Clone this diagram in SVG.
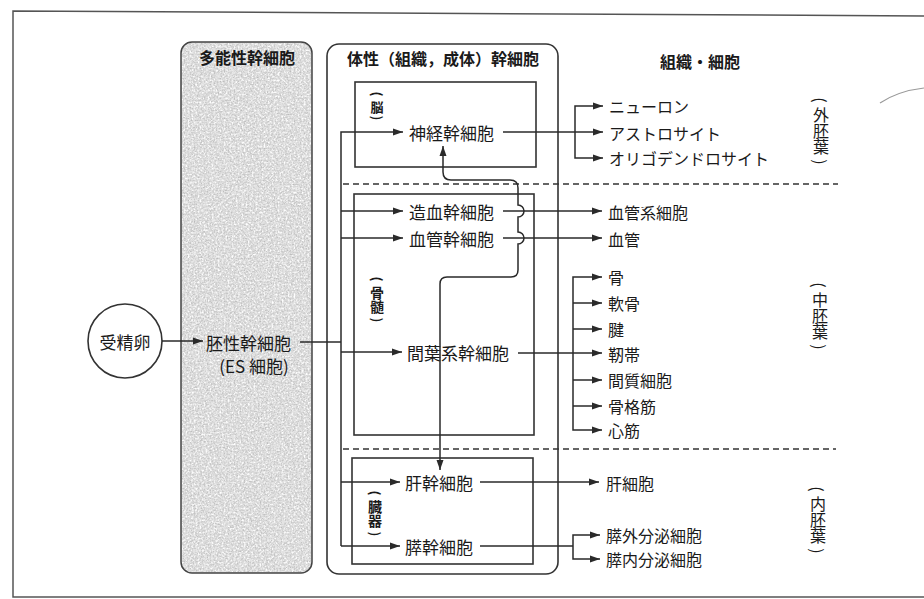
<svg xmlns="http://www.w3.org/2000/svg" width="924" height="599" viewBox="0 0 924 599">
<style>
  .t { font-family: "Noto Sans CJK JP", "Noto Sans", sans-serif; fill: #1a1a1a; }
  .node { font-size: 17px; dominant-baseline: central; }
  .out { font-size: 16px; dominant-baseline: central; }
  .hdr { font-size: 16px; font-weight: bold; text-anchor: middle; dominant-baseline: central; }
  .vc { font-size: 16px; text-anchor: middle; dominant-baseline: central; }
  .vt { font-size: 16px; writing-mode: vertical-rl; text-anchor: middle; }
  .vs { font-size: 13px; font-weight: bold; text-anchor: middle; dominant-baseline: central; }
  .vst { font-size: 14px; font-weight: bold; writing-mode: vertical-rl; text-anchor: middle; }
  .ln { fill: none; stroke: #2a2a2a; stroke-width: 1.5; }
  .arr { fill: none; stroke: #2a2a2a; stroke-width: 1.5; marker-end: url(#ah); }
  .box { fill: none; stroke: #333; stroke-width: 1.6; }
  .dash { fill: none; stroke: #333; stroke-width: 1.6; stroke-dasharray: 6 4; }
</style>
<defs>
  <marker id="ah" markerUnits="userSpaceOnUse" markerWidth="11" markerHeight="8" refX="10" refY="4" orient="auto-start-reverse">
    <path d="M0,0.5 L10,4 L0,7.5 z" fill="#2a2a2a"/>
  </marker>
  <filter id="grain" filterUnits="userSpaceOnUse" x="181" y="42" width="131" height="531">
    <feTurbulence type="fractalNoise" baseFrequency="0.7" numOctaves="3" seed="7" result="n"/>
    <feColorMatrix in="n" type="matrix" values="0 0 0 0 0.5  0 0 0 0 0.5  0 0 0 0 0.5  0 0 0 2.4 -1.1" result="g"/>
    <feComposite in="g" in2="SourceAlpha" operator="in"/>
  </filter>
  <filter id="grainw" filterUnits="userSpaceOnUse" x="181" y="42" width="131" height="531">
    <feTurbulence type="fractalNoise" baseFrequency="0.5" numOctaves="2" seed="31" result="n"/>
    <feColorMatrix in="n" type="matrix" values="0 0 0 0 1  0 0 0 0 1  0 0 0 0 1  0 0 0 2.6 -1.0" result="g"/>
    <feComposite in="g" in2="SourceAlpha" operator="in"/>
  </filter>
</defs>
<rect width="924" height="599" fill="#fff"/>
<path d="M924,16 L13,11 L13,597 L924,597" fill="none" stroke="#555" stroke-width="1.5"/>
<path d="M880,103 Q898,91 924,88" fill="none" stroke="#999" stroke-width="1.2"/>

<g id="panel-pluripotent">
  <rect x="181" y="42" width="131" height="531" rx="11" fill="#d8d8d8"/>
  <rect x="182" y="43" width="129" height="529" rx="10" fill="#000" filter="url(#grainw)"/>
  <rect x="182" y="43" width="129" height="529" rx="10" fill="#000" filter="url(#grain)"/>
  <rect x="181" y="42" width="131" height="531" rx="11" fill="none" stroke="#444" stroke-width="1.5"/>
  <text class="t hdr" x="247" y="57">多能性幹細胞</text>
</g>
<g id="panel-somatic">
  <rect x="327" y="44" width="231" height="530" rx="12" class="box"/>
  <text class="t hdr" x="443" y="58">体性（組織，成体）幹細胞</text>
</g>
<g id="header-tissue">
  <text class="t hdr" x="700" y="61">組織・細胞</text>
</g>

<g id="box-brain">
  <rect x="355" y="82" width="181" height="85" class="box"/>
  <g class="t vs">
    <text x="377" y="94" transform="rotate(90 377 94)">(</text>
    <text x="377" y="106">脳</text>
    <text x="377" y="118" transform="rotate(90 377 118)">)</text>
  </g>
</g>
<g id="box-marrow">
  <rect x="354" y="194" width="180" height="241" class="box"/>
  <g class="t vs">
    <text x="377" y="279" transform="rotate(90 377 279)">(</text>
    <text x="377" y="320" transform="rotate(90 377 320)">)</text>
  </g>
  <text class="t vst" x="377" y="299.5">骨髄</text>
</g>
<g id="box-organ">
  <rect x="352" y="458" width="181" height="106" class="box"/>
  <g class="t vs">
    <text x="375" y="493" transform="rotate(90 375 493)">(</text>
    <text x="375" y="534" transform="rotate(90 375 534)">)</text>
  </g>
  <text class="t vst" x="375" y="513.5">臓器</text>
</g>

<g id="layers">
  <path class="dash" d="M343,184 H838"/>
  <path class="dash" d="M343,449 H836"/>
  <g class="t vc">
    <text x="821" y="100" transform="rotate(90 821 100)">(</text>
    <text x="821" y="162" transform="rotate(90 821 162)">)</text>
    <text x="820" y="285" transform="rotate(90 820 285)">(</text>
    <text x="820" y="347" transform="rotate(90 820 347)">)</text>
    <text x="818" y="489" transform="rotate(90 818 489)">(</text>
    <text x="818" y="551" transform="rotate(90 818 551)">)</text>
  </g>
  <text class="t vt" x="821" y="131">外胚葉</text>
  <text class="t vt" x="820" y="316">中胚葉</text>
  <text class="t vt" x="818" y="520">内胚葉</text>
</g>

<g id="node-zygote">
  <circle cx="125" cy="341" r="37" fill="#fff" stroke="#333" stroke-width="1.6"/>
  <text class="t node" x="125" y="341" text-anchor="middle">受精卵</text>
</g>
<g id="node-es">
  <text class="t node" x="206" y="342">胚性幹細胞</text>
  <text class="t node" x="254" y="365" text-anchor="middle">(ES 細胞)</text>
</g>
<g id="node-neural"><text class="t node" x="409" y="132">神経幹細胞</text></g>
<g id="node-hemato"><text class="t node" x="409" y="211">造血幹細胞</text></g>
<g id="node-vascular"><text class="t node" x="409" y="238">血管幹細胞</text></g>
<g id="node-mesench"><text class="t node" x="407" y="352">間葉系幹細胞</text></g>
<g id="node-liver"><text class="t node" x="405" y="482">肝幹細胞</text></g>
<g id="node-pancreas"><text class="t node" x="405" y="546">膵幹細胞</text></g>

<g id="outputs">
  <text class="t out" x="609" y="106">ニューロン</text>
  <text class="t out" x="609" y="133">アストロサイト</text>
  <text class="t out" x="609" y="158">オリゴデンドロサイト</text>
  <text class="t out" x="608" y="212">血管系細胞</text>
  <text class="t out" x="608" y="239">血管</text>
  <text class="t out" x="608" y="277">骨</text>
  <text class="t out" x="608" y="303">軟骨</text>
  <text class="t out" x="608" y="329">腱</text>
  <text class="t out" x="608" y="354">靭帯</text>
  <text class="t out" x="608" y="380">間質細胞</text>
  <text class="t out" x="608" y="406">骨格筋</text>
  <text class="t out" x="608" y="430">心筋</text>
  <text class="t out" x="606" y="483">肝細胞</text>
  <text class="t out" x="606" y="535">膵外分泌細胞</text>
  <text class="t out" x="606" y="559">膵内分泌細胞</text>
</g>

<g id="connectors">
  <path class="arr" d="M162,341 H203"/>
  <path class="ln" d="M300,342 H341"/>
  <path class="arr" d="M341,546 V132 H403"/>
  <path class="arr" d="M341,211 H403"/>
  <path class="arr" d="M341,238 H403"/>
  <path class="arr" d="M341,352 H402"/>
  <path class="arr" d="M341,482 H400"/>
  <path class="arr" d="M341,546 H400"/>

  <path class="arr" d="M503,132 H603"/>
  <path class="arr" d="M575,132 V106 H603"/>
  <path class="arr" d="M575,132 V158 H603"/>

  <path class="arr" d="M503,211 H602"/>
  <path class="arr" d="M503,238 H602"/>

  <path class="arr" d="M518,353 H602"/>
  <path class="arr" d="M573,353 V277 H602"/>
  <path class="arr" d="M573,303 H602"/>
  <path class="arr" d="M573,329 H602"/>
  <path class="arr" d="M573,380 H602"/>
  <path class="arr" d="M573,406 H602"/>
  <path class="arr" d="M573,353 V430 H602"/>

  <path class="arr" d="M480,482 H599"/>
  <path class="ln" d="M480,546 H573"/>
  <path class="arr" d="M573,546 V535 H600"/>
  <path class="arr" d="M573,546 V559 H600"/>

  <path class="arr" style="marker-start:url(#ah)" d="M440,470 V284 Q440,277 447,277 H511 Q518,277 518,270 V244 A6,6 0 0 0 518,232 V217 A6,6 0 0 0 518,205 V188 Q518,180 510,180 H451 Q443,180 443,172 V146"/>
</g>
</svg>
